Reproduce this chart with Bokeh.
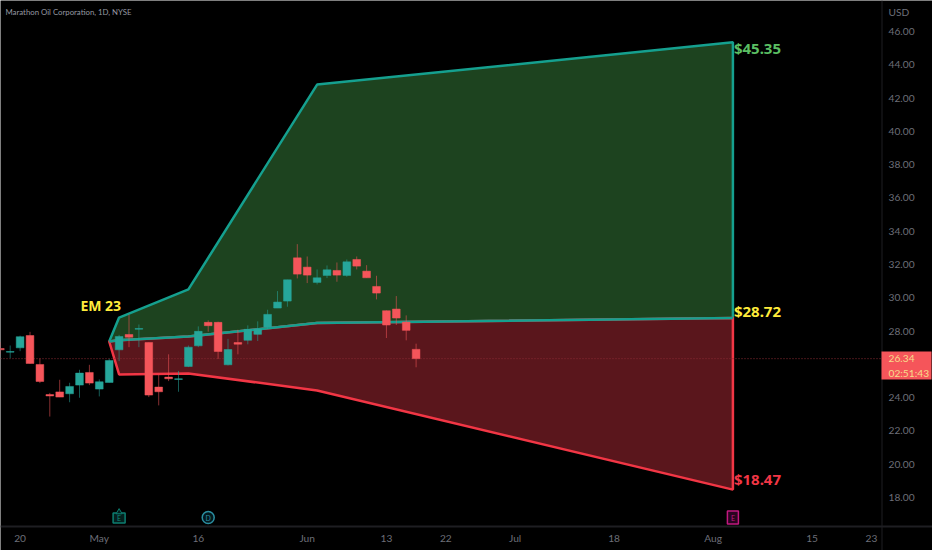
from bokeh.plotting import figure
from bokeh.models import Label, BoxAnnotation, FixedTicker, NumeralTickFormatter, LinearAxis
from bokeh.embed import file_html
from bokeh.resources import INLINE

# candles (trading-day index, OHLC)
bar_index = list(range(-1, 42))
opens = [26.95,26.73,26.99,27.73,25.99,24.18,24.34,24.23,24.75,25.51,24.51,24.91,26.87,27.79,28.11,27.31,24.63,25.23,25.09,25.87,27.11,28.52,28.52,25.97,27.31,27.44,27.80,28.24,29.38,29.80,32.40,31.84,30.92,31.34,31.64,31.34,32.30,31.60,30.68,29.22,29.32,28.54,26.90]
highs = [27.34,27.13,27.72,27.95,26.35,24.28,25.07,24.89,25.67,25.97,25.09,26.33,27.77,28.99,28.39,27.31,25.37,26.60,25.60,27.13,28.28,28.64,28.56,27.53,28.08,28.34,28.58,29.28,30.40,31.08,33.22,32.48,31.70,31.94,32.12,32.30,32.48,31.96,31.32,29.24,30.10,28.94,27.24]
lows = [26.60,26.37,26.79,26.04,24.87,22.86,24.03,23.72,23.99,24.75,24.07,24.91,26.19,27.03,27.03,24.03,23.53,24.99,24.35,25.83,27.03,27.96,26.32,25.93,26.60,27.20,27.40,28.12,29.38,29.46,31.16,30.88,30.80,31.18,30.96,31.26,31.70,31.20,29.90,27.58,28.36,27.44,25.82]
closes = [26.87,26.77,27.66,26.05,24.97,24.10,24.03,24.67,25.47,24.87,24.95,26.23,27.67,27.63,28.15,24.15,24.35,25.13,25.13,27.03,27.98,28.32,26.77,26.89,27.21,28.10,28.12,29.00,29.74,31.08,31.42,31.36,31.20,31.68,31.36,32.16,31.90,31.20,30.28,28.36,28.78,28.04,26.34]

# expected-move cone
cone_x = [10, 11, 18, 31, 73]
cone_upper = [27.37, 28.81, 30.50, 42.81, 45.35]
cone_mid = [27.37, 27.45, 27.67, 28.48, 28.78]
cone_lower = [27.37, 25.39, 25.45, 24.43, 18.47]

# axes
y_ticks = list(range(18, 47, 2))
x_ticks = [1, 9, 19, 30, 38, 44, 51, 61, 71, 81, 87]
x_labels = ["20", "May", "16", "Jun", "13", "22", "Jul", "18", "Aug", "15", "23"]
last_price = 26.34
pane_right = 88.01    # bar index where the price scale begins
pane_bottom = 16.252  # price where the time scale begins

BG = "#000000"; TEAL = "#15a08f"; RED = "#f23645"
BODY_UP = "#26a69a"; BODY_DN = "#f5555a"
AXIS_TXT = "#6d6f78"; AXIS_LINE = "#1e1e22"
FONT = "Lato"

p = figure(frame_width=932, frame_height=550, min_border=0,
           x_range=(-0.98, 93.16), y_range=(14.81, 47.863),
           x_axis_location=None, y_axis_location=None, output_backend="svg", toolbar_location=None,
           background_fill_color=BG, border_fill_color=BG)
p.outline_line_color = None
p.grid.visible = False

xax = LinearAxis(fixed_location=pane_bottom, ticker=FixedTicker(ticks=x_ticks),
                 major_label_overrides=dict(zip(x_ticks, x_labels)), major_label_standoff=5)
yax = LinearAxis(fixed_location=pane_right, ticker=FixedTicker(ticks=y_ticks),
                 formatter=NumeralTickFormatter(format="0.00"), major_label_standoff=7)
p.add_layout(xax, "below")
p.add_layout(yax, "right")
for ax in (xax, yax):
    ax.major_tick_line_color = None
    ax.minor_tick_line_color = None
    ax.major_tick_out = 0
    ax.major_tick_in = 0
    ax.minor_tick_out = 0
    ax.minor_tick_in = 0
    ax.axis_line_color = None
    ax.major_label_text_color = AXIS_TXT
    ax.major_label_text_font = FONT
    ax.major_label_text_font_size = "10.2px"

def screen_box(left, right, top, bottom, color):
    p.add_layout(BoxAnnotation(left=left, right=right, top=top, bottom=bottom, left_units="screen",
                               right_units="screen", top_units="screen", bottom_units="screen",
                               fill_color=color, fill_alpha=1, line_color=None, level="annotation"))

# axis rules reaching the window edges
screen_box(881, 882, 550, 0, AXIS_LINE)
screen_box(0, 932, 25, 23, AXIS_LINE)

# cone
p.patch(cone_x + cone_x[::-1], cone_upper + cone_mid[::-1], fill_color="#1d431f",
        line_color=TEAL, line_width=2.5)
p.patch(cone_x + cone_x[::-1], cone_lower + cone_mid[::-1], fill_color="#5a161c",
        line_color=RED, line_width=2.5)
p.line(cone_x, cone_mid, line_color=TEAL, line_width=2.5)

p.line([-0.98, pane_right], [last_price, last_price], line_color="#8c2c34", line_dash=[1, 2], line_width=1)

# candles
up = [c >= o for o, c in zip(opens, closes)]
cols = [BODY_UP if u else BODY_DN for u in up]
p.segment(bar_index, lows, bar_index, highs, line_color=cols, line_alpha=0.55, line_width=1)
p.vbar(x=bar_index, width=0.78, bottom=[min(o, c) for o, c in zip(opens, closes)],
       top=[max(o, c) for o, c in zip(opens, closes)], fill_color=cols, line_color=cols, line_width=0.5)

# value labels
def val(txt, x, y, col, dy=0):
    p.add_layout(Label(x=x, y=y, text=txt, text_color=col, text_font="Noto Sans",
                       text_font_size="15px", text_font_style="bold",
                       text_baseline="middle", x_offset=1, y_offset=dy))
val("$45.35", 73, 45.35, "#5bbf63", -6)
val("$28.72", 73, 28.72, "#ffeb3b", 8)
val("$18.47", 73, 18.47, RED, 11)
p.add_layout(Label(x=11, y=28.81, text="EM 23", text_color="#ffeb3b", text_font="Noto Sans",
                   text_font_size="14px", text_font_style="bold", text_align="right", text_baseline="middle",
                   x_offset=2, y_offset=12))

# event markers
my = 16.79
p.rect([11], [my - 0.03], width=12, height=10, width_units="screen", height_units="screen",
       fill_color="#04201e", line_color="#0c7d70", line_width=1.5)
p.scatter([11], [my + 0.33], marker="triangle", size=6, fill_color="#04201e", line_color="#0c7d70")
p.scatter([20], [my], marker="circle", size=12, fill_color="#03181e", line_color="#2a8ea0", line_width=1.5)
p.rect([73], [my], width=11, height=13, width_units="screen", height_units="screen",
       fill_color="#2a0420", line_color="#c2187f", line_width=1.5)
for xx, t, c in [(11, "E", "#0f8a7c"), (20, "D", "#2a8ea0"), (73, "E", "#c2187f")]:
    p.add_layout(Label(x=xx, y=my, text=t, text_color=c, text_font=FONT, text_font_size="7px",
                       text_align="center", text_baseline="middle"))

# header and price tag (screen positions are measured from the frame's lower left corner)
p.add_layout(Label(x=5, y=539, x_units="screen", y_units="screen", text="Marathon Oil Corporation, 1D, NYSE",
                   text_color="#9598a1", text_font=FONT, text_font_size="7.8px", text_baseline="middle"))
p.add_layout(Label(x=888, y=539, x_units="screen", y_units="screen", text="USD",
                   text_color=AXIS_TXT, text_font=FONT, text_font_size="10.2px", text_baseline="middle"))
screen_box(881, 931, 199, 171, BODY_DN)
for t, yy in [("26.34", 192), ("02:51:43", 178)]:
    p.add_layout(Label(x=888, y=yy, x_units="screen", y_units="screen", text=t, text_color="#f7dc8b",
                       text_font=FONT, text_font_size="10.2px", text_baseline="middle"))

open("out.html", "w").write(file_html(p, INLINE))
